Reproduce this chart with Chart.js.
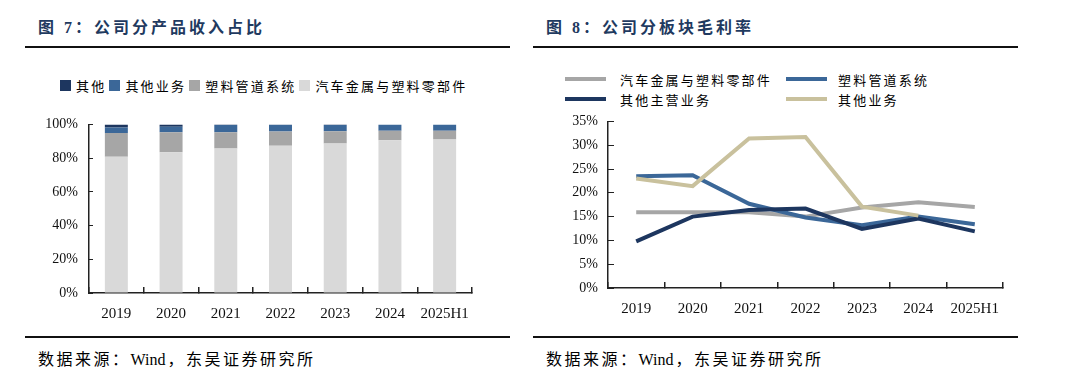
<!DOCTYPE html>
<html lang="zh">
<head>
<meta charset="utf-8">
<title>公司分产品收入占比 / 公司分板块毛利率</title>
<script src="https://cdn.jsdelivr.net/npm/chart.js@4.4.0/dist/chart.umd.min.js"></script>
<style>
body{margin:0;width:1080px;height:377px;background:#fff;position:relative;overflow:hidden;
  font-family:"Liberation Serif","Noto Sans CJK SC",serif;color:#000}
.title{position:absolute;top:14px;font-size:16px;font-weight:bold;color:#1f3a60;letter-spacing:3px;white-space:nowrap}
.rule{position:absolute;height:2px;background:#111}
.src{position:absolute;top:346px;font-size:16px;letter-spacing:2.5px;white-space:nowrap}
.src em{font-style:normal;letter-spacing:0;margin-right:2px}
.wrap{position:absolute}
.lgd{position:absolute;font-size:13px;letter-spacing:2.2px;white-space:nowrap;display:flex;align-items:center}
.lgd i{display:inline-block;width:11px;height:11px;margin:0 5px 0 3px}
.lgl{position:absolute;font-size:13px;letter-spacing:2.2px;white-space:nowrap}
.lgl b{position:absolute;height:4px;width:41px}
</style>
</head>
<body>

<div class="title" style="left:38px">图 7：公司分产品收入占比</div>
<div class="title" style="left:546px">图 8：公司分板块毛利率</div>
<div class="rule" style="left:25px;width:485px;top:46px"></div>
<div class="rule" style="left:533px;width:485px;top:46px"></div>

<div class="lgd" id="lgdL" style="left:57px;top:76px"></div>
<div id="lgdR"></div>

<div class="wrap" style="left:25px;top:101px;width:485px;height:229px"><canvas id="c1"></canvas></div>
<div class="wrap" style="left:540px;top:97px;width:480px;height:233px"><canvas id="c2"></canvas></div>

<div class="rule" style="left:25px;width:485px;top:336px"></div>
<div class="rule" style="left:533px;width:485px;top:336px"></div>
<div class="src" style="left:38px">数据来源：<em>Wind</em>，东吴证券研究所</div>
<div class="src" style="left:546px">数据来源：<em>Wind</em>，东吴证券研究所</div>

<script>
/* 数据 */
const years = ['2019','2020','2021','2022','2023','2024','2025H1'];

// 图7 收入占比 (%)
const shareAuto    = [80.8, 83.5, 85.7, 87.4, 88.6, 90.6, 91.0];
const sharePipe    = [14.1, 11.8,  9.6,  8.4,  7.3,  5.7,  5.3];
const shareOtherBiz= [ 3.3,  3.3,  4.3,  4.0,  3.7,  3.7,  3.7];
const shareOther   = [ 1.8,  1.4,  0.4,  0.2,  0.4,  0.0,  0.0];

// 图8 毛利率 (%)
const gmAuto     = [15.9, 15.9, 15.9, 15.0, 16.9, 18.0, 17.0];
const gmPipe     = [23.5, 23.7, 17.7, 14.8, 13.2, 15.0, 13.4];
const gmOtherMain= [ 9.8, 15.0, 16.4, 16.7, 12.4, 14.6, 11.9];
const gmOtherBiz = [23.0, 21.4, 31.4, 31.7, 17.1, 15.2, null];

const NAVY='#1d365f', BLUE='#3b6798', GREY='#a6a6a6', LIGHT='#d9d9d9', KHAKI='#c9c19d';

const tickFont = {family:'"Liberation Serif", serif', size:14};
const xFont = {family:'"Liberation Serif", serif', size:15};

/* 左：堆积柱 */
const barSets = [
  {label:'汽车金属与塑料零部件', data:shareAuto,     backgroundColor:LIGHT},
  {label:'塑料管道系统',         data:sharePipe,     backgroundColor:GREY},
  {label:'其他业务',             data:shareOtherBiz, backgroundColor:BLUE},
  {label:'其他',                 data:shareOther,    backgroundColor:NAVY}
];
barSets.forEach(d=>{ d.categoryPercentage=1; d.barPercentage=0.42; });

// 图例（顺序反转）
document.getElementById('lgdL').innerHTML = barSets.slice().reverse()
  .map(d=>`<i style="background:${d.backgroundColor}"></i><span>${d.label}</span>`).join('');

new Chart(document.getElementById('c1'),{
  type:'bar',
  data:{labels:years, datasets:barSets},
  options:{
    responsive:true, maintainAspectRatio:false, animation:false,
    layout:{padding:{top:6,right:38,bottom:0,left:0}},
    plugins:{legend:{display:false}, tooltip:{enabled:false}},
    scales:{
      x:{stacked:true,
         border:{color:'#222',width:1.5},
         grid:{drawOnChartArea:false,offset:true,tickLength:-6,color:'#222',lineWidth:1.5},
         ticks:{font:xFont,color:'#111',padding:18,maxRotation:0},
         afterFit:s=>{s.height=37;}},
      y:{stacked:true,min:0,max:100,
         border:{color:'#222',width:1.5},
         grid:{drawOnChartArea:false,tickLength:-4,color:'#222'},
         ticks:{stepSize:20,font:tickFont,color:'#111',padding:15,callback:v=>v+'%'},
         afterFit:s=>{s.width=64;}}
    }
  }
});

/* 右：折线 */
const lineSets = [
  {label:'汽车金属与塑料零部件', data:gmAuto,      borderColor:GREY,  order:3},
  {label:'塑料管道系统',         data:gmPipe,      borderColor:BLUE,  order:2},
  {label:'其他主营业务',         data:gmOtherMain, borderColor:NAVY,  order:1},
  {label:'其他业务',             data:gmOtherBiz,  borderColor:KHAKI, order:0}
];
lineSets.forEach(d=>{ d.borderWidth=4; d.pointRadius=0; d.tension=0; d.fill=false; });

const lgPos = [[565,79],[786,79],[565,99],[786,99]];
document.getElementById('lgdR').innerHTML = lineSets.map((d,i)=>{
  const [x,y]=lgPos[i];
  return `<div class="lgl" style="left:${x}px;top:${y-9}px"><b style="background:${d.borderColor};left:0;top:7px"></b><span style="position:absolute;left:${i%2?52:55}px">${d.label}</span></div>`;
}).join('');

new Chart(document.getElementById('c2'),{
  type:'line',
  data:{labels:years, datasets:lineSets},
  options:{
    responsive:true, maintainAspectRatio:false, animation:false,
    layout:{padding:{top:4,right:17,bottom:0,left:0}},
    plugins:{legend:{display:false}, tooltip:{enabled:false}},
    scales:{
      x:{offset:true,
         border:{color:'#222',width:1.5},
         grid:{drawOnChartArea:false,offset:true,tickLength:-6,color:'#222',lineWidth:1.5},
         ticks:{font:xFont,color:'#111',padding:18,maxRotation:0},
         afterFit:s=>{s.height=42;}},
      y:{min:0,max:35,
         border:{color:'#222',width:1.5},
         grid:{drawOnChartArea:false,tickLength:-6,color:'#222'},
         ticks:{stepSize:5,font:tickFont,color:'#111',padding:16,callback:v=>v+'%'},
         afterFit:s=>{s.width=68;}}
    }
  }
});
</script>
</body>
</html>
